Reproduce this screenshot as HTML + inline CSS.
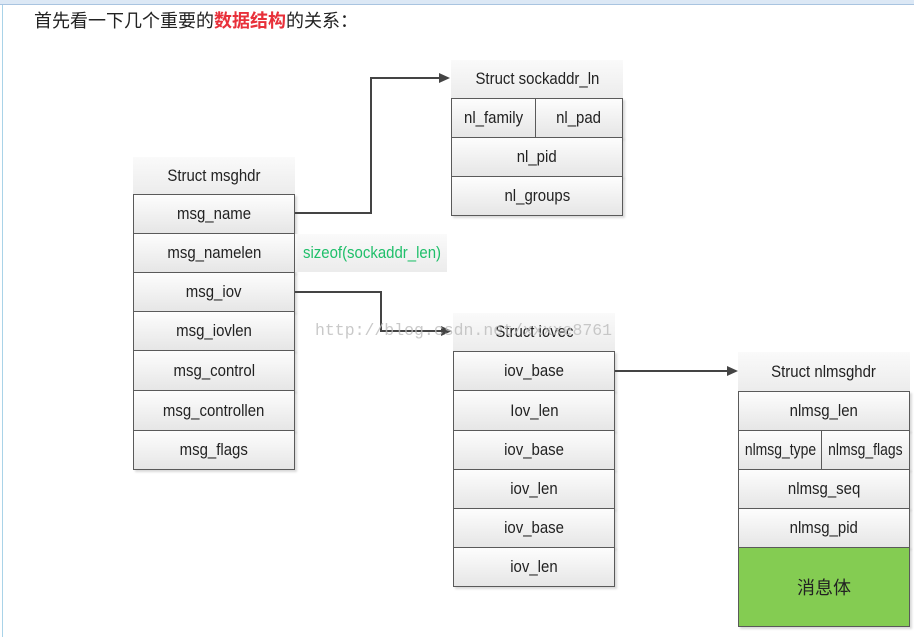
<!DOCTYPE html>
<html><head><meta charset="utf-8"><style>
body{margin:0;width:914px;height:637px;background:#fff;position:relative;overflow:hidden;font-family:"Liberation Sans",sans-serif;}
.c{position:absolute;box-sizing:border-box;border:1.5px solid #5a5a5a;background:linear-gradient(#fdfdfd,#e6e6e6);display:flex;align-items:center;justify-content:center;font-size:17px;color:#222;box-shadow:2px 2px 2px rgba(0,0,0,0.15);white-space:nowrap;}
.h{position:absolute;box-sizing:border-box;background:linear-gradient(#fafafa,#ececec);display:flex;align-items:center;justify-content:center;font-size:17px;color:#222;white-space:nowrap;}
.c span,.h span{display:inline-block;transform:scaleX(0.88);}
.top{position:absolute;left:0;top:0;width:914px;height:4px;background:#dce8f5;border-bottom:1px solid #a9c4e0;}
.lb{position:absolute;left:2px;top:5px;width:1px;height:632px;background:#a9d3e8;}
.title{position:absolute;left:34px;top:7px;font-size:18px;font-family:"Liberation Sans","Noto Sans CJK SC",sans-serif;color:#222;}
.title b{color:#e8303a;}
</style></head><body>
<div class="top"></div><div class="lb"></div>
<div class="title">首先看一下几个重要的<b>数据结构</b>的关系：</div>

<div class="h" style="left:133px;top:157px;width:162px;height:37px"><span>Struct msghdr</span></div>
<div class="c" style="left:133px;top:194px;width:162px;height:40px"><span>msg_name</span></div>
<div class="c" style="left:133px;top:233px;width:162px;height:40px"><span>msg_namelen</span></div>
<div class="c" style="left:133px;top:272px;width:162px;height:40px"><span>msg_iov</span></div>
<div class="c" style="left:133px;top:311px;width:162px;height:40px"><span>msg_iovlen</span></div>
<div class="c" style="left:133px;top:350px;width:162px;height:41px"><span>msg_control</span></div>
<div class="c" style="left:133px;top:390px;width:162px;height:41px"><span>msg_controllen</span></div>
<div class="c" style="left:133px;top:430px;width:162px;height:40px"><span>msg_flags</span></div>
<div class="h" style="left:295px;top:234px;width:152px;height:38px;color:#1fbf6a;justify-content:flex-start;padding-left:8px"><span style="transform-origin:left center">sizeof(sockaddr_len)</span></div>

<div class="h" style="left:451px;top:60px;width:172px;height:38px"><span>Struct sockaddr_ln</span></div>
<div class="c" style="left:451px;top:98px;width:85px;height:40px"><span>nl_family</span></div>
<div class="c" style="left:535px;top:98px;width:88px;height:40px"><span>nl_pad</span></div>
<div class="c" style="left:451px;top:137px;width:172px;height:40px"><span>nl_pid</span></div>
<div class="c" style="left:451px;top:176px;width:172px;height:40px"><span>nl_groups</span></div>

<div class="h" style="left:453px;top:313px;width:162px;height:38px"><span>Struct iovec</span></div>
<div class="c" style="left:453px;top:351px;width:162px;height:40px"><span>iov_base</span></div>
<div class="c" style="left:453px;top:390px;width:162px;height:41px"><span>Iov_len</span></div>
<div class="c" style="left:453px;top:430px;width:162px;height:40px"><span>iov_base</span></div>
<div class="c" style="left:453px;top:469px;width:162px;height:40px"><span>iov_len</span></div>
<div class="c" style="left:453px;top:508px;width:162px;height:40px"><span>iov_base</span></div>
<div class="c" style="left:453px;top:547px;width:162px;height:40px"><span>iov_len</span></div>

<div class="h" style="left:738px;top:352px;width:172px;height:39px"><span>Struct nlmsghdr</span></div>
<div class="c" style="left:738px;top:391px;width:172px;height:40px"><span>nlmsg_len</span></div>
<div class="c" style="left:738px;top:430px;width:84px;height:40px"><span style="transform:scaleX(0.82)">nlmsg_type</span></div>
<div class="c" style="left:821px;top:430px;width:89px;height:40px"><span style="transform:scaleX(0.82)">nlmsg_flags</span></div>
<div class="c" style="left:738px;top:469px;width:172px;height:40px"><span>nlmsg_seq</span></div>
<div class="c" style="left:738px;top:508px;width:172px;height:40px"><span>nlmsg_pid</span></div>
<div class="c" style="left:738px;top:547px;width:172px;height:80px;background:#84cc52;font-family:'Liberation Sans','Noto Sans CJK SC',sans-serif;font-size:18px">消息体</div>

<svg style="position:absolute;left:0;top:0" width="914" height="637">
<g stroke="#444" stroke-width="2" fill="none">
<polyline points="295,213 371,213 371,78 440,78"/>
<polyline points="295,292 381,292 381,331 442,331"/>
<line x1="615" y1="371" x2="728" y2="371"/>
</g>
<g fill="#444">
<polygon points="450,78 439,73 439,83"/>
<polygon points="452,331 441,326 441,336"/>
<polygon points="738,371 727,366 727,376"/>
</g>
<text x="315" y="335" font-family="Liberation Mono,monospace" font-size="16.5" fill="#bbbbbb" fill-opacity="0.8">http://blog.csdn.net/xxxxe8761</text>
</svg>
</body></html>
